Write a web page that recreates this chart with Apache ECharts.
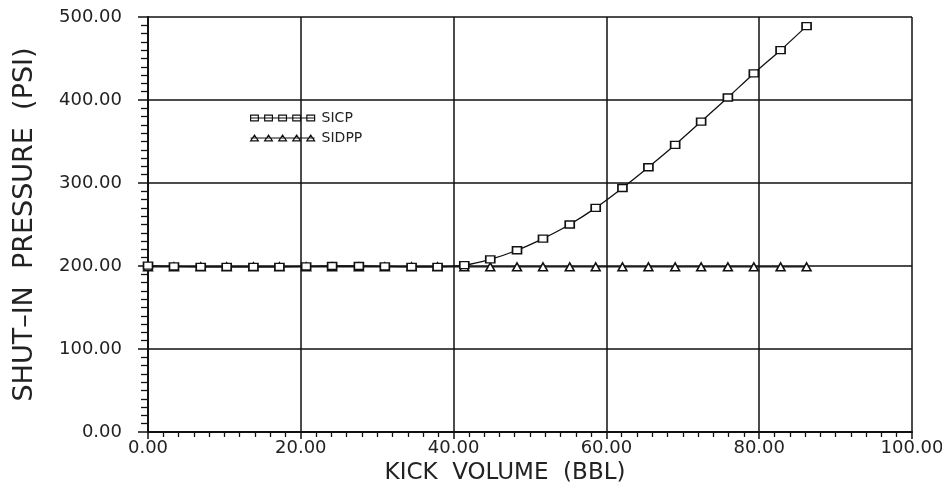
<!DOCTYPE html>
<html>
<head>
<meta charset="utf-8">
<script src="https://cdn.jsdelivr.net/npm/echarts@6/dist/echarts.min.js"></script>
<style>
  html, body {margin: 0; padding: 0; background: #fff;}
  #chart {width: 942px; height: 486px;}
</style>
</head>
<body>
<div id="chart"></div>
<script>
// kick volume (BBL) of each plotted point
const kickVolume = [0, 3.4, 6.9, 10.3, 13.8, 17.2, 20.7, 24.1, 27.6, 31.0, 34.5, 37.9, 41.4,
  44.8, 48.3, 51.7, 55.2, 58.6, 62.1, 65.5, 69.0, 72.4, 75.9, 79.3, 82.8, 86.2]
// casing pressure (PSI)
const sicp = [200.5, 199.5, 199, 199, 199, 199, 199.5, 200, 200, 199.5, 199, 199, 201,
  208, 219, 233, 250, 270, 294, 319, 346, 374, 403, 432, 460, 489]
// drill pipe pressure (PSI)
const sidpp = [199, 199, 199, 199, 199, 199, 199, 199, 199, 199, 199, 199, 199,
  199, 199, 199, 199, 199, 199, 199, 199, 199, 199, 199, 199, 199]
const seriesNames = ['SICP', 'SIDPP']

const font = 'DejaVu Sans'

// legend icons: five markers on a line
const squaresIcon = 'path://M0 4L66 4M0 1h8v6h-8zM14.5 1h8v6h-8zM29 1h8v6h-8zM43.5 1h8v6h-8zM58 1h8v6h-8z'
const trianglesIcon = 'path://M0 4L66 4M0 7L4 1L8 7zM14.5 7L18.5 1L22.5 7zM29 7L33 1L37 7zM43.5 7L47.5 1L51.5 7zM58 7L62 1L66 7z'

const pairs = function (xs, ys) {
  return xs.map((x, i) => [x, ys[i]])
}

const chart = echarts.init(document.getElementById('chart'))

chart.setOption({
  animation: false,
  backgroundColor: '#fff',
  grid: {left: 148, right: 30, top: 17, bottom: 54, containLabel: false, outerBoundsMode: 'none'},
  legend: {
    orient: 'vertical',
    left: 245,
    top: 106,
    itemWidth: 64,
    itemHeight: 7,
    itemGap: 6,
    textStyle: {fontFamily: font, fontSize: 14, color: '#222', padding: [0, 0, 0, 2]},
    data: [
      {name: seriesNames[0], icon: squaresIcon, itemStyle: {color: '#fff', borderColor: '#111', borderWidth: 1.2}},
      {name: seriesNames[1], icon: trianglesIcon, itemStyle: {color: '#fff', borderColor: '#111', borderWidth: 1.2}},
    ],
  },
  xAxis: {
    type: 'value',
    min: 0,
    max: 100,
    interval: 20,
    name: 'KICK  VOLUME  (BBL)',
    nameLocation: 'middle',
    nameGap: 26,
    nameTextStyle: {fontFamily: font, fontSize: 23, color: '#222', padding: [0, 50, 0, 0]},
    axisLine: {lineStyle: {color: '#111', width: 2}},
    axisTick: {show: true, length: 7, lineStyle: {color: '#111', width: 1.5}},
    minorTick: {show: true, splitNumber: 10, length: 5, lineStyle: {color: '#111', width: 1.3}},
    axisLabel: {fontFamily: font, fontSize: 18, color: '#222', margin: 7,
      formatter: v => v.toFixed(2)},
    splitLine: {show: true, lineStyle: {color: '#111', width: 1.5}},
  },
  yAxis: {
    type: 'value',
    min: 0,
    max: 500,
    interval: 100,
    name: 'SHUT–IN  PRESSURE  (PSI)',
    nameLocation: 'middle',
    nameRotate: 90,
    nameGap: 110,
    nameTextStyle: {fontFamily: font, fontSize: 27, color: '#222'},
    axisLine: {show: true, lineStyle: {color: '#111', width: 2}},
    axisTick: {show: true, length: 10, lineStyle: {color: '#111', width: 1.5}},
    minorTick: {show: true, splitNumber: 10, length: 7, lineStyle: {color: '#111', width: 1.3}},
    axisLabel: {fontFamily: font, fontSize: 18, color: '#222', margin: 26,
      formatter: v => v.toFixed(2)},
    splitLine: {show: true, lineStyle: {color: '#111', width: 1.5}},
  },
  series: [
    {
      name: seriesNames[1],
      type: 'line',
      data: pairs(kickVolume, sidpp),
      symbol: 'triangle',
      symbolSize: [9, 8],
      itemStyle: {color: '#fff', borderColor: '#111', borderWidth: 1.5},
      lineStyle: {color: '#111', width: 1.3},
      z: 2,
    },
    {
      name: seriesNames[0],
      type: 'line',
      data: pairs(kickVolume, sicp),
      smooth: 0.2,
      symbol: 'rect',
      symbolSize: [9, 7],
      itemStyle: {color: '#fff', borderColor: '#111', borderWidth: 1.5},
      lineStyle: {color: '#111', width: 1.3},
      z: 3,
    },
  ],
})
</script>
</body>
</html>
